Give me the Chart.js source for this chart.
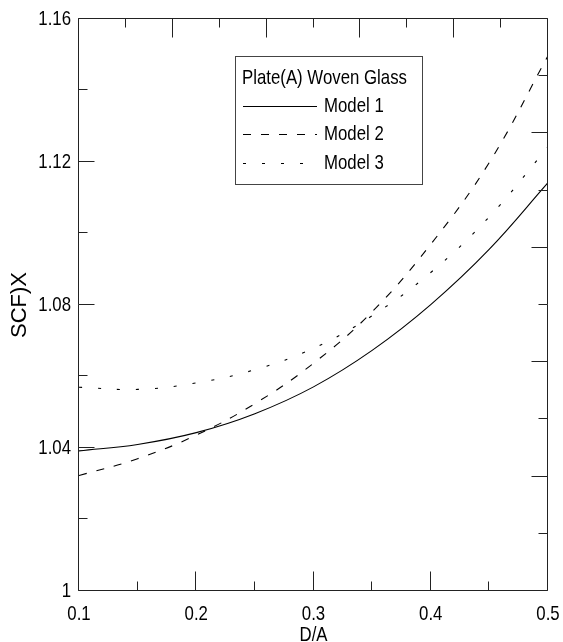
<!DOCTYPE html>
<html>
<head>
<meta charset="utf-8">
<script src="https://cdn.jsdelivr.net/npm/chart.js@4.4.1/dist/chart.umd.min.js"></script>
<style>
  html, body { margin: 0; padding: 0; background: #fff; }
  #wrap { width: 563px; height: 642px; position: relative; }
</style>
</head>
<body>
<div id="wrap"><canvas id="c" width="563" height="642"></canvas></div>
<script>
// D/A ratios and stress concentration factor for the three models
const ratios = [0.10, 0.15, 0.20, 0.25, 0.30, 0.35, 0.40, 0.45, 0.50];
const model1 = [1.0392, 1.0410, 1.0443, 1.0496, 1.0571, 1.0673, 1.0801, 1.0956, 1.1142];
const model2 = [1.0323, 1.0370, 1.0436, 1.0524, 1.0637, 1.0781, 1.0970, 1.1199, 1.1497];
const model3 = [1.0570, 1.0564, 1.0582, 1.0619, 1.0679, 1.0770, 1.0891, 1.1047, 1.1242];

const seriesNames = ['Model 1', 'Model 2', 'Model 3'];
const legendTitle = 'Plate(A) Woven Glass';

const xTickValues = [0.1, 0.2, 0.3, 0.4, 0.5];
const xTickLabels = ['0.1', '0.2', '0.3', '0.4', '0.5'];
const yTickValues = [1, 1.04, 1.08, 1.12, 1.16];
const yTickLabels = ['1', '1.04', '1.08', '1.12', '1.16'];

const xTitle = 'D/A';
const yTitle = 'SCF)X';

const FONT = "'Liberation Sans', Arial, sans-serif";
const INK = '#000';
const AXIS = '#222';

// horizontal text is set in a narrow face: condense upright labels sideways
const TEXT_SQUEEZE = 0.8;
const nativeFillText = CanvasRenderingContext2D.prototype.fillText;
CanvasRenderingContext2D.prototype.fillText = function (text, x, y, maxWidth) {
  const m = this.getTransform();
  if (Math.abs(m.b) > 1e-6 || Math.abs(m.c) > 1e-6) {
    return nativeFillText.apply(this, arguments);
  }
  this.save();
  this.translate(x, y);
  this.scale(TEXT_SQUEEZE, 1);
  if (maxWidth === undefined || maxWidth === null) nativeFillText.call(this, text, 0, 0);
  else nativeFillText.call(this, text, 0, 0, maxWidth / TEXT_SQUEEZE);
  this.restore();
};

function series(ys) { return ratios.map((x, i) => ({ x: x, y: ys[i] })); }

function lineStyle(dash) {
  return {
    borderColor: INK, borderWidth: 1.1, borderDash: dash,
    pointRadius: 0, fill: false, tension: 0.4
  };
}

// inward ticks on all four sides plus the frame
const framePlugin = {
  id: 'frame',
  afterDatasetsDraw(chart) {
    const { ctx, chartArea: ca, scales } = chart;
    const L = Math.round(ca.left) - 0.5, R = Math.round(ca.right) - 0.5;
    const T = Math.round(ca.top) - 0.5, B = Math.round(ca.bottom) - 0.5;
    ctx.save();
    ctx.strokeStyle = AXIS;
    ctx.lineWidth = 1;
    ctx.beginPath();
    ctx.rect(L, T, R - L, B - T);

    const mids = vals => vals.slice(1).map((v, i) => (v + vals[i]) / 2);
    // bottom
    xTickValues.forEach(v => { const p = Math.round(scales.x.getPixelForValue(v)) - 0.5; ctx.moveTo(p, B); ctx.lineTo(p, B - 19); });
    mids(xTickValues).forEach(v => { const p = Math.round(scales.x.getPixelForValue(v)) - 0.5; ctx.moveTo(p, B); ctx.lineTo(p, B - 9); });
    // left
    yTickValues.forEach(v => { const p = Math.round(scales.y.getPixelForValue(v)) - 0.5; ctx.moveTo(L, p); ctx.lineTo(L + 16, p); });
    mids(yTickValues).forEach(v => { const p = Math.round(scales.y.getPixelForValue(v)) - 0.5; ctx.moveTo(L, p); ctx.lineTo(L + 9, p); });
    // top
    scales.xTop.ticks.forEach(t => {
      const p = Math.round(scales.xTop.getPixelForValue(t.value)) - 0.5;
      ctx.moveTo(p, T); ctx.lineTo(p, T + (t.value % 2 === 0 ? 19 : 9));
    });
    // right
    scales.yRight.ticks.forEach(t => {
      const p = Math.round(scales.yRight.getPixelForValue(t.value)) - 0.5;
      ctx.moveTo(R, p); ctx.lineTo(R - (t.value % 2 === 0 ? 16 : 9), p);
    });
    ctx.stroke();
    ctx.restore();
  }
};

// boxed legend inside the plot
const boxLegend = {
  id: 'boxLegend',
  afterDraw(chart) {
    const { ctx, chartArea: ca } = chart;
    const bx = ca.left + 156, by = ca.top + 37, bw = 187, bh = 128;
    ctx.save();
    ctx.strokeStyle = '#444';
    ctx.lineWidth = 1;
    ctx.strokeRect(Math.round(bx) + 0.5, Math.round(by) + 0.5, bw, bh);
    ctx.fillStyle = INK;
    ctx.font = '21px ' + FONT;
    ctx.textBaseline = 'middle';
    ctx.textAlign = 'left';
    ctx.fillText(legendTitle, bx + 7, by + 22);
    chart.data.datasets.forEach((ds, i) => {
      const y = Math.round(by + 50 + i * 28.3) + 0.5;
      ctx.save();
      ctx.strokeStyle = ds.borderColor;
      ctx.lineWidth = ds.borderWidth;
      ctx.setLineDash(ds.borderDash || []);
      ctx.beginPath();
      ctx.moveTo(bx + 8, y);
      ctx.lineTo(bx + 82, y);
      ctx.stroke();
      ctx.restore();
      ctx.fillText(ds.label, bx + 89, y);
    });
    ctx.restore();
  }
};

function noEdgePadding(s) {
  s.paddingLeft = 0; s.paddingRight = 0; s.paddingTop = 0; s.paddingBottom = 0;
}

Chart.defaults.font.family = FONT;
Chart.defaults.font.size = 21;
Chart.defaults.color = INK;

new Chart(document.getElementById('c'), {
  type: 'line',
  data: {
    datasets: [
      Object.assign({ label: seriesNames[0], data: series(model1) }, lineStyle([])),
      Object.assign({ label: seriesNames[1], data: series(model2) }, lineStyle([8, 10])),
      Object.assign({ label: seriesNames[2], data: series(model3) }, lineStyle([3, 16]))
    ]
  },
  options: {
    responsive: false,
    animation: false,
    devicePixelRatio: 1,
    layout: { padding: { top: 19, right: 15, left: 0, bottom: 0 } },
    plugins: { legend: { display: false }, tooltip: { enabled: false } },
    scales: {
      x: {
        type: 'linear', position: 'bottom', min: 0.1, max: 0.5,
        afterBuildTicks: s => { s.ticks = xTickValues.map(v => ({ value: v })); },
        afterFit: s => { s.height = 51; noEdgePadding(s); },
        grid: { display: false, drawTicks: false },
        border: { display: false },
        ticks: { padding: 11, maxRotation: 0, autoSkip: false, callback: (v, i) => xTickLabels[i] },
        title: { display: true, text: xTitle, padding: { top: 0, bottom: -6 } }
      },
      y: {
        type: 'linear', position: 'left', min: 1, max: 1.16,
        afterBuildTicks: s => { s.ticks = yTickValues.map(v => ({ value: v })); },
        afterFit: s => { s.width = 79; noEdgePadding(s); },
        grid: { display: false, drawTicks: false },
        border: { display: false },
        ticks: { padding: 8, autoSkip: false, callback: (v, i) => yTickLabels[i] },
        title: { display: true, text: yTitle, font: { size: 22 }, padding: { top: 7, bottom: 0 } }
      },
      xTop: {
        type: 'linear', position: 'top', min: 0, max: 10,
        ticks: { display: false, stepSize: 1 },
        grid: { display: false, drawTicks: false },
        border: { display: false },
        afterFit: s => { s.height = 0; noEdgePadding(s); }
      },
      yRight: {
        type: 'linear', position: 'right', min: 0, max: 10,
        ticks: { display: false, stepSize: 1 },
        grid: { display: false, drawTicks: false },
        border: { display: false },
        afterFit: s => { s.width = 0; noEdgePadding(s); }
      }
    }
  },
  plugins: [framePlugin, boxLegend]
});
</script>
</body>
</html>
